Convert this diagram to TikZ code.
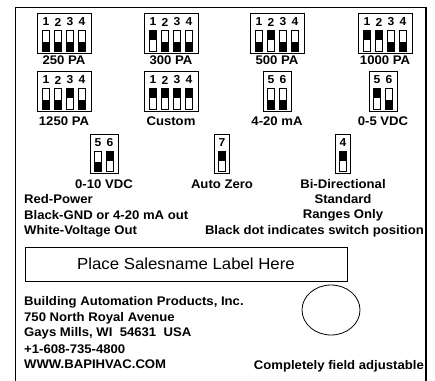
\documentclass[tikz,border=0pt]{standalone}
\usepackage{fontspec}
\usetikzlibrary{shapes.geometric}
\setmainfont{Liberation Sans}[FakeStretch=1.05]
\tikzset{
  frame/.style={line width=1pt},
  dipframe/.style={draw, line width=1pt, minimum height=40, inner sep=0pt},
  digit/.style={font=\bfseries\fontsize{11.5}{11.5}\selectfont, inner sep=0pt},
  lab/.style={font=\bfseries\fontsize{12.5}{13}\selectfont, inner sep=0pt},
  txt/.style={font=\bfseries\fontsize{12.5}{13}\selectfont, inner sep=0pt, anchor=west},
  slot/.style={draw, line width=0.8pt},
}
\newcommand\dipbox[6]{% #1 name, #2 cx, #3 top y, #4 n, #5 height, #6 list digit/state
  \node[dipframe, minimum width={13*#4+2}, minimum height=#5, anchor=north] (#1) at (#2,#3) {};
  \foreach \d/\s [count=\i] in {#6} {
    \pgfmathsetmacro\sx{#2 + 12*(\i-(#4+1)/2)}
    \node[digit] (#1-d\i) at (\sx,#3+9) {\d};
    \ifnum\s=1
      \fill (\sx-3.5,#3+17) rectangle (\sx+3.5,#3+27);
    \else
      \fill (\sx-3.5,#3+#5-11) rectangle (\sx+3.5,#3+#5-2);
    \fi
    \draw[slot] (\sx-3.5,#3+17) rectangle (\sx+3.5,#3+#5-2);
  }
}
\begin{document}
\begin{tikzpicture}[x=1pt,y=-1pt]
\useasboundingbox (0,0) rectangle (435,380);
\draw[frame] (15,381) -- (15,7) -- (426,7);
\draw[line width=1.8pt] (426,7) -- (426,381);

% row 1
\dipbox{s250}{64}{13}{4}{40}{1/0,2/0,3/0,4/0}
\dipbox{s300}{171}{13}{4}{40}{1/1,2/0,3/0,4/0}
\dipbox{s500}{277}{13}{4}{40}{1/0,2/1,3/0,4/0}
\dipbox{s1000}{385}{13}{4}{40}{1/1,2/1,3/0,4/0}
\node[lab] (l250) at (64,60) {250 PA};
\node[lab] (l300) at (171,60) {300 PA};
\node[lab] (l500) at (277,60) {500 PA};
\node[lab] (l1000) at (385,60) {1000 PA};

% row 2
\dipbox{s1250}{64}{71}{4}{40}{1/0,2/0,3/1,4/0}
\dipbox{scust}{171}{71}{4}{40}{1/1,2/1,3/1,4/1}
\dipbox{s420}{277}{71}{2}{40}{5/0,6/0}
\dipbox{s05}{383}{71}{2}{40}{5/1,6/0}
\node[lab] (l1250) at (64,121) {1250 PA};
\node[lab] (lcust) at (171,121) {Custom};
\node[lab] (l420) at (277,121) {4-20 mA};
\node[lab] (l05) at (383,121) {0-5 VDC};

% row 3
\dipbox{s010}{104}{134}{2}{39}{5/0,6/1}
\dipbox{sauto}{222}{134}{1}{39}{7/1}
\dipbox{sbi}{343}{134}{1}{39}{4/1}
\node[lab] (l010) at (104,184) {0-10 VDC};
\node[lab] (lauto) at (222,184) {Auto Zero};
\node[lab] (lbi) at (343,184) {Bi-Directional};
\node[lab] (lstd) at (343,199) {Standard};
\node[lab] (lrng) at (343,215) {Ranges Only};
\node[lab, anchor=east] (ldot) at (424,231) {Black dot indicates switch position};

\node[txt] (red) at (24,199) {Red-Power};
\node[txt] (blk) at (24,215) {Black-GND or 4-20 mA out};
\node[txt] (wht) at (24,231) {White-Voltage Out};

\node[draw, line width=1pt, minimum width=322, minimum height=34, inner sep=0pt,
      font=\fontsize{16}{16}\selectfont] (sales) at (186,264) {Place Salesname Label Here};

\node[txt] (a1) at (24,302) {Building Automation Products, Inc.};
\node[txt] (a2) at (24,318) {750 North Royal Avenue};
\node[txt] (a3) at (24,333) {Gays Mills, WI\ \ 54631\ \ USA};
\node[txt] (a4) at (24,349) {+1-608-735-4800};
\node[txt] (a5) at (24,364) {WWW.BAPIHVAC.COM};

\node[draw, line width=0.8pt, ellipse, minimum width=58, minimum height=50, inner sep=0pt] (knob) at (331,310) {};
\node[lab, anchor=east] (cfa) at (424,366) {Completely field adjustable};
\end{tikzpicture}
\end{document}
